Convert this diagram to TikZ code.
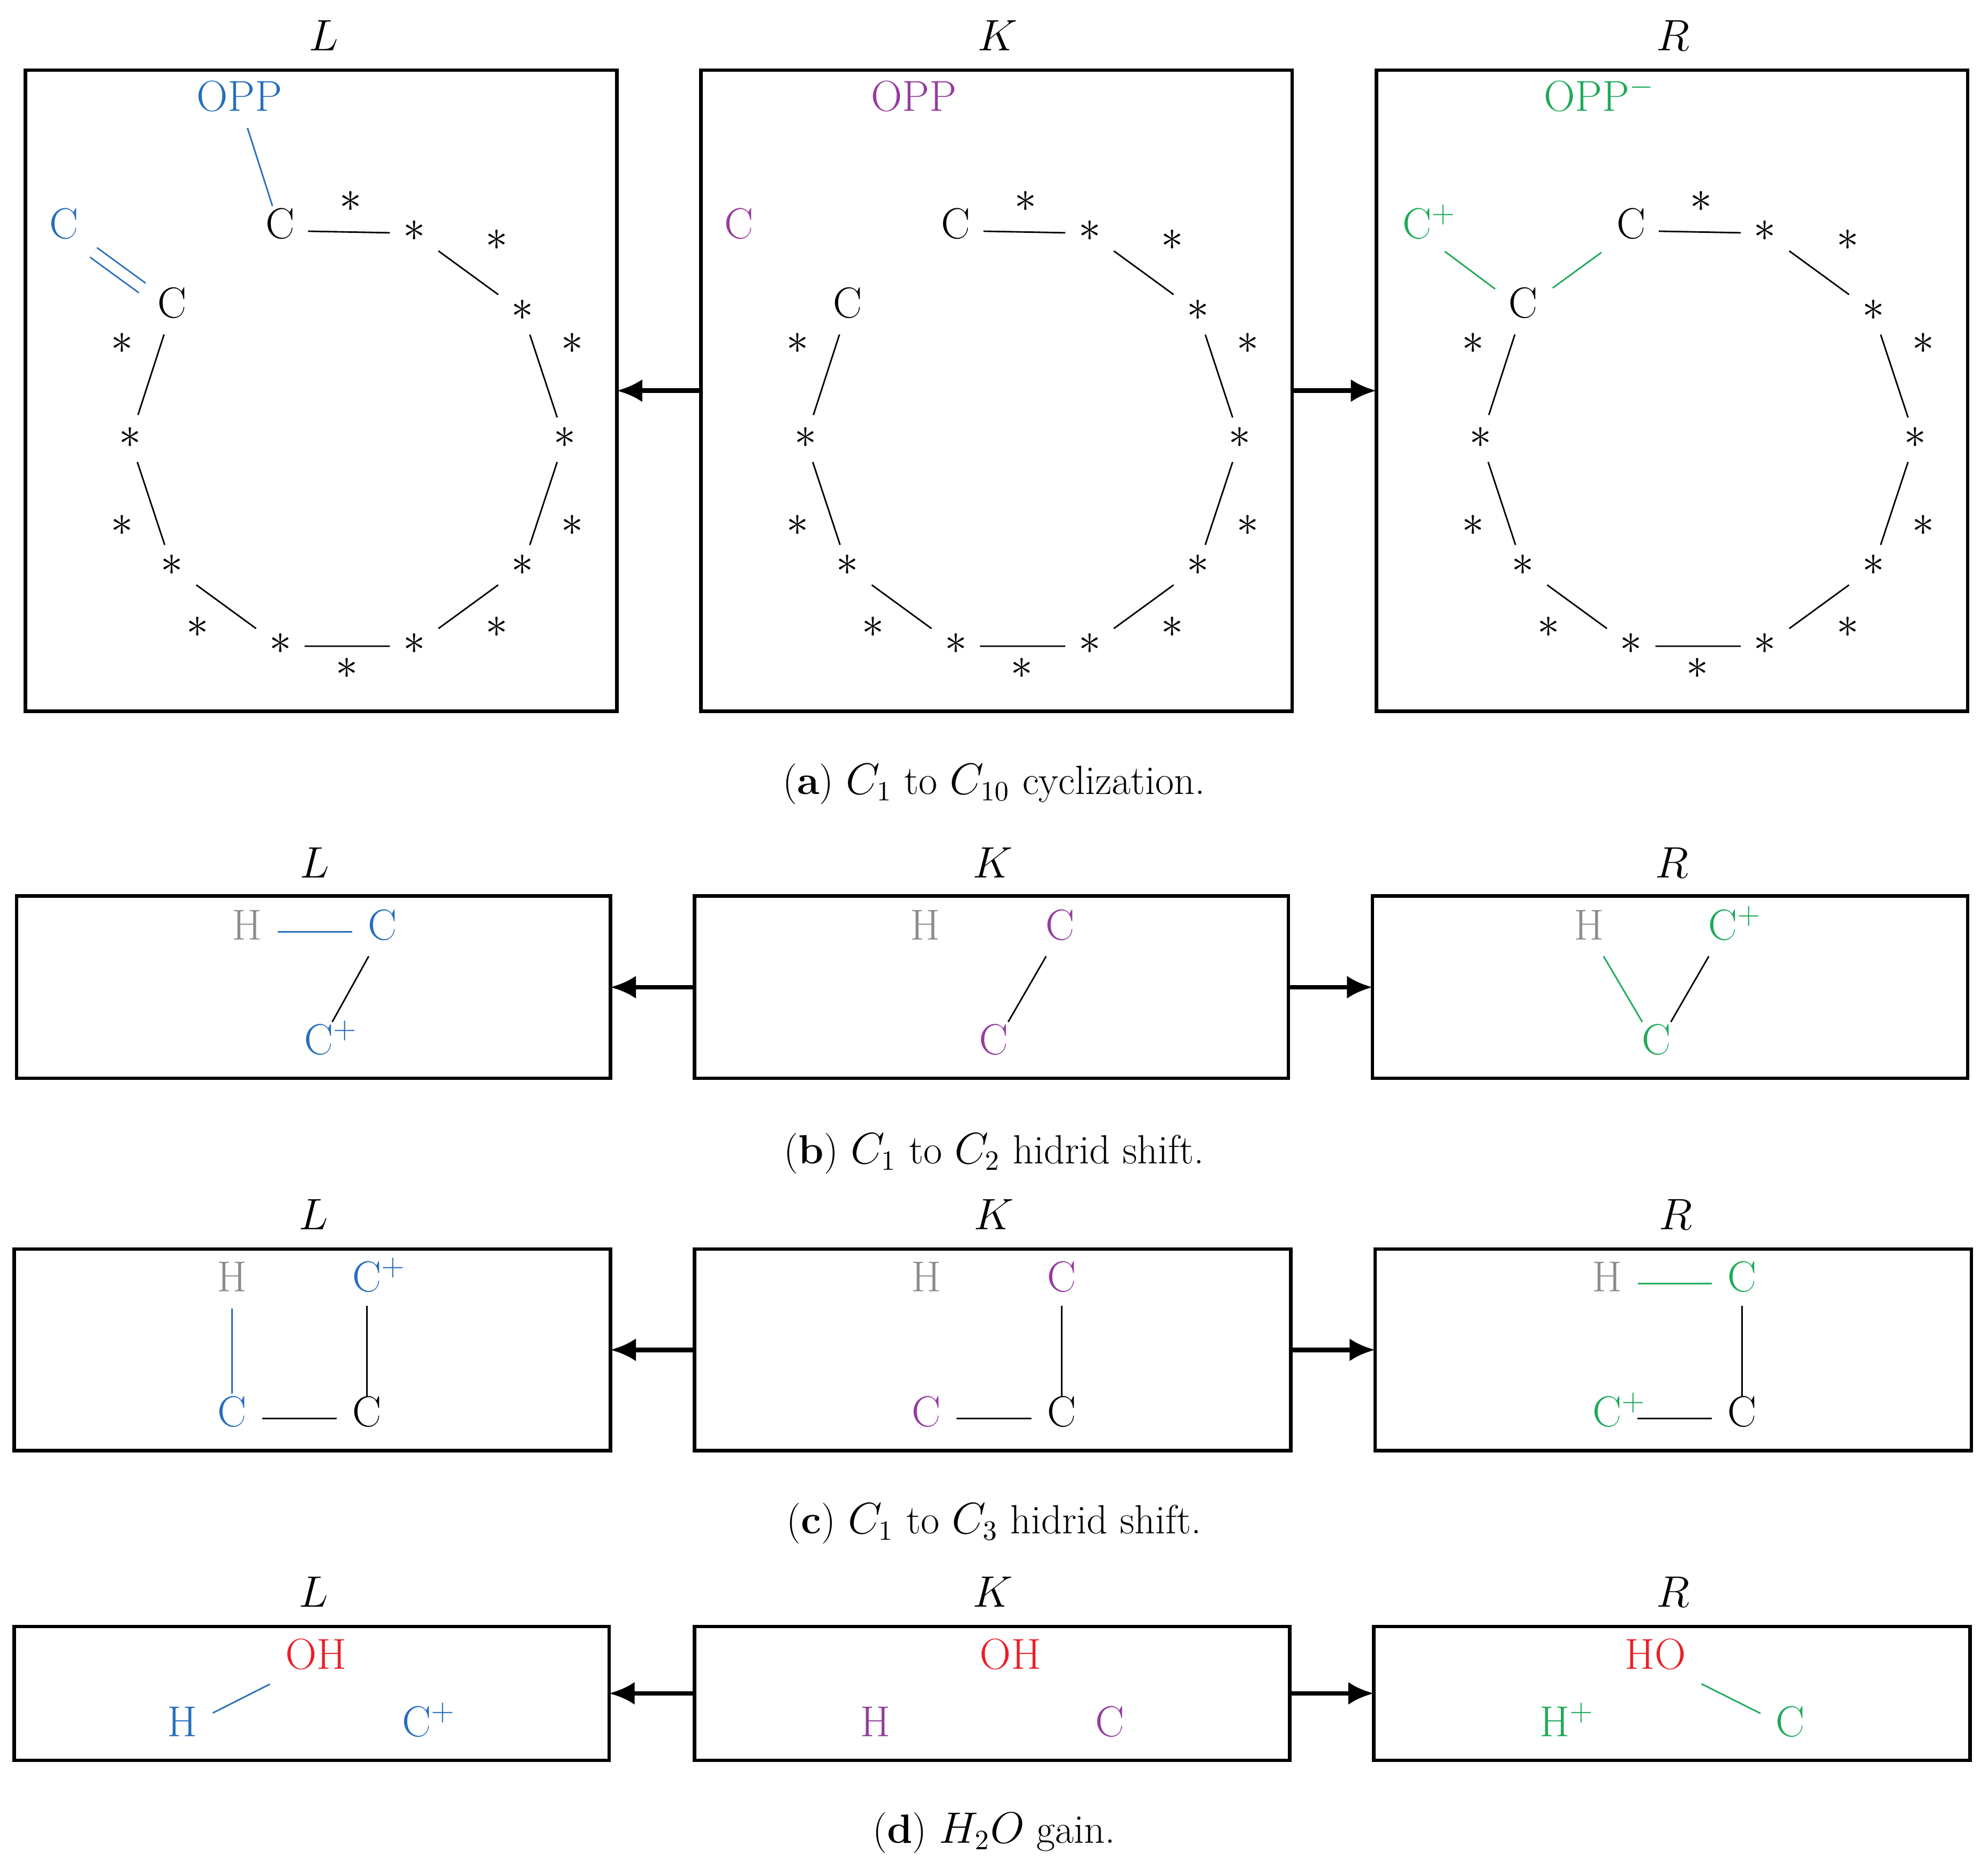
\documentclass[tikz,border=0pt]{standalone}
\usetikzlibrary{arrows.meta}
\definecolor{cblue}{RGB}{40,110,190}
\definecolor{cpurp}{RGB}{150,60,160}
\definecolor{cgreen}{RGB}{30,170,90}
\definecolor{cgray}{RGB}{140,140,140}
\definecolor{cred}{RGB}{235,30,40}
\newcommand{\myring}{%
  \node[atm] (Ct) at (220,181) {C};
  \node[atm] (s1) at (325,183) {$\ast$};
  \node[atm] (s2) at (410,245) {$\ast$};
  \node[atm] (s3) at (443,345) {$\ast$};
  \node[atm] (s4) at (410,445) {$\ast$};
  \node[atm] (s5) at (325,507) {$\ast$};
  \node[atm] (s6) at (220,507) {$\ast$};
  \node[atm] (s7) at (135,445) {$\ast$};
  \node[atm] (s8) at (102,345) {$\ast$};
  \node[atm] (Cl) at (135,243) {C};
  \node[atm] (o1) at (275,160) {$\ast$};
  \node[atm] (o2) at (390,190) {$\ast$};
  \node[atm] (o3) at (449,271) {$\ast$};
  \node[atm] (o4) at (449,414) {$\ast$};
  \node[atm] (o5) at (390,494) {$\ast$};
  \node[atm] (o6) at (272,526) {$\ast$};
  \node[atm] (o7) at (155,494) {$\ast$};
  \node[atm] (o8) at (96,414) {$\ast$};
  \node[atm] (o9) at (96,271) {$\ast$};
  \draw[bond] (Ct)--(s1) (s1)--(s2) (s2)--(s3) (s3)--(s4) (s4)--(s5) (s5)--(s6) (s6)--(s7) (s7)--(s8) (s8)--(Cl);
}
\begin{document}
\begin{tikzpicture}[x=0.5pt,y=-0.5pt,
  atm/.style={font=\fontsize{17}{20}\selectfont, inner sep=5pt, text height=1.55ex, text depth=0.1ex},
  box/.style={draw, line width=1.4pt, outer sep=0pt},
  ttl/.style={font=\fontsize{17}{20}\selectfont},
  capt/.style={font=\fontsize{16}{20}\selectfont},
  bond/.style={line width=0.6pt, shorten <=1pt, shorten >=1pt},
  arr/.style={-{Latex[length=10pt,width=9pt]}, line width=1.8pt}]
\useasboundingbox (0,0) rectangle (1560,1460);
% ---------- (a)
\node[box, minimum width=232pt, minimum height=251.5pt, anchor=north west] (aL) at (20,55) {};
\node[box, minimum width=232pt, minimum height=251.5pt, anchor=north west] (aK) at (550,55) {};
\node[box, minimum width=232pt, minimum height=251.5pt, anchor=north west] (aR) at (1080,55) {};
\node[ttl] (aLt) at (254,28) {$L$};
\node[ttl] (aKt) at (783,28) {$K$};
\node[ttl] (aRt) at (1313,28) {$R$};
\draw[arr] (aK.west) -- (aL.east);
\draw[arr] (aK.east) -- (aR.west);
\begin{scope}[name prefix=aL-]
\myring
\node[atm, text=cblue] (C2) at (50,181) {C};
\node[atm, text=cblue] (O) at (188,81) {OPP};
\draw[bond, cblue] (O)--(Ct);
\draw[bond, cblue, double, double distance=4pt] (C2)--(Cl);
\end{scope}
\begin{scope}[shift={(530,0)}, name prefix=aK-]
\myring
\node[atm, text=cpurp] (C2) at (50,181) {C};
\node[atm, text=cpurp] (O) at (187,81) {OPP};
\end{scope}
\begin{scope}[shift={(1060,0)}, name prefix=aR-]
\myring
\node[atm, text=cgreen] (C2) at (52,181) {C\rlap{$^+$}};
\node[atm, text=cgreen] (O) at (185,81) {OPP\rlap{$^-$}};
\draw[bond, cgreen] (C2)--(Cl) (Cl)--(Ct);
\end{scope}
\node[capt] (acap) at (780,615) {(\textbf{a}) $C_1$ to $C_{10}$ cyclization.};
% ---------- (b)
\node[box, minimum width=233pt, minimum height=71.5pt, anchor=north west] (bL) at (13,703) {};
\node[box, minimum width=233pt, minimum height=71.5pt, anchor=north west] (bK) at (545,703) {};
\node[box, minimum width=233.5pt, minimum height=71.5pt, anchor=north west] (bR) at (1077,703) {};
\node[ttl] (bLt) at (247,677) {$L$};
\node[ttl] (bKt) at (779,677) {$K$};
\node[ttl] (bRt) at (1312,677) {$R$};
\draw[arr] (bK.west) -- (bL.east);
\draw[arr] (bK.east) -- (bR.west);
\node[atm, text=cgray] (bLH) at (194,731) {H};
\node[atm, text=cblue] (bLC) at (300,731) {C};
\node[atm, text=cblue] (bLCp) at (250,821) {C\rlap{$^+$}};
\draw[bond, cblue] (bLH)--(bLC);
\draw[bond] (bLC)--(bLCp);
\node[atm, text=cgray] (bKH) at (726,731) {H};
\node[atm, text=cpurp] (bKC) at (832,731) {C};
\node[atm, text=cpurp] (bKC2) at (780,821) {C};
\draw[bond] (bKC)--(bKC2);
\node[atm, text=cgray] (bRH) at (1247,731) {H};
\node[atm, text=cgreen] (bRCp) at (1352,731) {C\rlap{$^+$}};
\node[atm, text=cgreen] (bRC) at (1300,821) {C};
\draw[bond, cgreen] (bRH)--(bRC);
\draw[bond] (bRCp)--(bRC);
\node[capt] (bcap) at (780,905) {(\textbf{b}) $C_1$ to $C_2$ hidrid shift.};
% ---------- (c)
\node[box, minimum width=234pt, minimum height=79pt, anchor=north west] (cL) at (11,980) {};
\node[box, minimum width=234pt, minimum height=79pt, anchor=north west] (cK) at (545,980) {};
\node[box, minimum width=234pt, minimum height=79pt, anchor=north west] (cR) at (1079,980) {};
\node[ttl] (cLt) at (246,953) {$L$};
\node[ttl] (cKt) at (780,953) {$K$};
\node[ttl] (cRt) at (1315,953) {$R$};
\draw[arr] (cK.west) -- (cL.east);
\draw[arr] (cK.east) -- (cR.west);
\node[atm, text=cgray] (cLH) at (182,1007) {H};
\node[atm, text=cblue] (cLCp) at (288,1007) {C\rlap{$^+$}};
\node[atm, text=cblue] (cLC) at (182,1113) {C};
\node[atm] (cLC2) at (288,1113) {C};
\draw[bond, cblue] (cLH)--(cLC);
\draw[bond] (cLCp)--(cLC2) (cLC)--(cLC2);
\node[atm, text=cgray] (cKH) at (727,1007) {H};
\node[atm, text=cpurp] (cKC) at (833,1007) {C};
\node[atm, text=cpurp] (cKC1) at (727,1113) {C};
\node[atm] (cKC2) at (833,1113) {C};
\draw[bond] (cKC)--(cKC2) (cKC1)--(cKC2);
\node[atm, text=cgray] (cRH) at (1261,1007) {H};
\node[atm, text=cgreen] (cRC) at (1367,1007) {C};
\node[atm, text=cgreen] (cRCp) at (1261,1113) {C\rlap{$^+$}};
\node[atm] (cRC2) at (1367,1113) {C};
\draw[bond, cgreen] (cRH)--(cRC);
\draw[bond] (cRC)--(cRC2) (cRCp)--(cRC2);
\node[capt] (ccap) at (780,1195) {(\textbf{c}) $C_1$ to $C_3$ hidrid shift.};
% ---------- (d)
\node[box, minimum width=233.5pt, minimum height=52.5pt, anchor=north west] (dL) at (11,1276) {};
\node[box, minimum width=233.5pt, minimum height=52.5pt, anchor=north west] (dK) at (545,1276) {};
\node[box, minimum width=234pt, minimum height=52.5pt, anchor=north west] (dR) at (1078,1276) {};
\node[ttl] (dLt) at (246,1249) {$L$};
\node[ttl] (dKt) at (779,1249) {$K$};
\node[ttl] (dRt) at (1313,1249) {$R$};
\draw[arr] (dK.west) -- (dL.east);
\draw[arr] (dK.east) -- (dR.west);
\node[atm, text=cred] (dLO) at (248,1303) {OH};
\node[atm, text=cblue] (dLH) at (143,1356) {H};
\node[atm, text=cblue] (dLC) at (327,1356) {C\rlap{$^+$}};
\draw[bond, cblue] (dLH)--(dLO);
\node[atm, text=cred] (dKO) at (793,1303) {OH};
\node[atm, text=cpurp] (dKH) at (687,1356) {H};
\node[atm, text=cpurp] (dKC) at (871,1356) {C};
\node[atm, text=cred] (dRO) at (1299,1303) {HO};
\node[atm, text=cgreen] (dRH) at (1220,1356) {H\rlap{$^+$}};
\node[atm, text=cgreen] (dRC) at (1405,1356) {C};
\draw[bond, cgreen] (dRO)--(dRC);
\node[capt] (dcap) at (780,1438) {(\textbf{d}) $H_2O$ gain.};
\end{tikzpicture}
\end{document}
